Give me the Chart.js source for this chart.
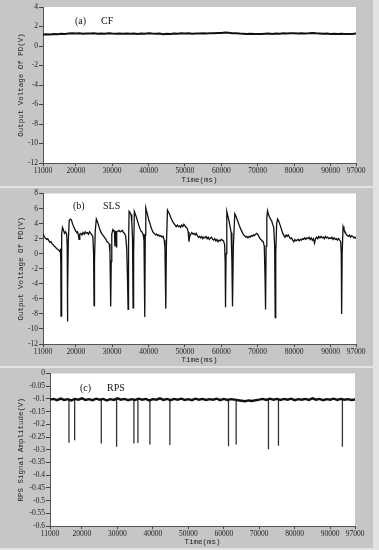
<!DOCTYPE html>
<html><head><meta charset="utf-8">
<script src="https://cdn.jsdelivr.net/npm/chart.js@4/dist/chart.umd.min.js"></script>
<style>
html,body{margin:0;padding:0;background:#e2e2e2;width:379px;height:550px;overflow:hidden}
.p{position:absolute;left:0}
canvas{display:block}
</style></head><body>
<div class="p" style="top:0px"><canvas id="ca" width="373" height="186"></canvas></div>
<div class="p" style="top:188px"><canvas id="cb" width="373" height="178"></canvas></div>
<div class="p" style="top:368px"><canvas id="cc" width="373" height="180"></canvas></div>
<script>
// ---------- data ----------
const xTickValues = [11000,20000,30000,40000,50000,60000,70000,80000,90000,97000];

const gridTimes = [
 11000,12000,13000,14000,15000,16000,17000,18000,19000,20000,
 21000,22000,23000,24000,25000,26000,27000,28000,29000,30000,
 31000,32000,33000,34000,35000,36000,37000,38000,39000,40000,
 41000,42000,43000,44000,45000,46000,47000,48000,49000,50000,
 51000,52000,53000,54000,55000,56000,57000,58000,59000,60000,
 61000,62000,63000,64000,65000,66000,67000,68000,69000,70000,
 71000,72000,73000,74000,75000,76000,77000,78000,79000,80000,
 81000,82000,83000,84000,85000,86000,87000,88000,89000,90000,
 91000,92000,93000,94000,95000,96000,97000];

// (a) CF output voltage (V)
const cfVolt = [
 1.18,1.20,1.17,1.22,1.20,1.25,1.23,1.28,1.30,1.27,
 1.30,1.26,1.29,1.27,1.30,1.25,1.28,1.26,1.30,1.27,
 1.25,1.29,1.26,1.28,1.25,1.27,1.24,1.28,1.26,1.30,
 1.27,1.25,1.28,1.20,1.26,1.24,1.28,1.25,1.30,1.27,
 1.30,1.26,1.29,1.27,1.31,1.28,1.32,1.30,1.34,1.33,
 1.38,1.36,1.32,1.30,1.27,1.25,1.23,1.25,1.22,1.24,
 1.22,1.25,1.27,1.24,1.28,1.26,1.30,1.28,1.30,1.32,
 1.29,1.31,1.28,1.30,1.33,1.30,1.28,1.25,1.27,1.24,
 1.26,1.23,1.25,1.22,1.24,1.23,1.28];

// (b) SLS output voltage (V)
const slsTime = [
 11000,11300,11600,12000,12300,12600,12900,13200,13500,13800,14100,14400,14700,15000,15300,15600,15800,15900,15950,16050,
 16200,16350,16600,16900,17200,17500,17650,17720,17800,17950,18200,18500,18800,19100,19400,19700,20000,20300,20500,20700,
 20900,21100,21400,21700,22000,22300,22600,22900,23200,23500,23800,24100,24400,24700,24900,25030,25150,25350,25650,25900,
 26200,26500,26800,27100,27400,27700,28000,28300,28600,28900,29200,29400,29600,29750,29900,30200,30500,30650,30720,30780,
 31050,31150,31250,31600,31900,32200,32500,32800,33100,33400,33700,34000,34200,34380,34500,34650,34900,35200,35400,35600,
 35750,35900,36100,36400,36700,37000,37300,37600,37900,38200,38500,38750,38960,39100,39240,39500,39800,40100,40400,40700,
 41000,41300,41600,41900,42200,42500,42800,43100,43400,43700,44000,44300,44500,44740,44900,45200,45500,45800,46100,46400,
 46700,47000,47300,47600,47900,48200,48500,48800,49100,49400,49700,50000,50300,50600,50900,51100,51300,51600,51900,52200,
 52500,52800,53100,53400,53700,54000,54300,54600,54900,55200,55500,55800,56100,56400,56700,57000,57300,57600,57900,58200,
 58500,58800,59100,59400,59700,60000,60300,60600,60900,61050,61150,61300,61500,61800,62100,62400,62700,62900,63070,63300,
 63700,64000,64300,64600,64900,65200,65500,65800,66100,66400,66700,67000,67300,67600,67900,68200,68500,68800,69100,69400,
 69700,70000,70300,70600,70900,71200,71500,71800,72000,72150,72300,72500,72700,72950,73200,73500,73800,74100,74400,74650,
 74800,74950,75200,75450,75700,76000,76300,76600,76900,77200,77500,77800,78100,78400,78700,79000,79300,79600,79900,80200,
 80500,80800,81100,81400,81700,82000,82300,82600,82900,83200,83500,83800,84100,84400,84700,85000,85300,85600,85900,86200,
 86500,86800,87100,87400,87700,88000,88300,88600,88900,89200,89500,89800,90100,90400,90700,91000,91300,91600,91900,92200,
 92500,92800,92950,93050,93200,93450,93700,94000,94300,94600,94900,95200,95500,95800,96100,96400,96700,97000];
const slsVolt = [
 2.6,2.3,2.1,1.9,2.0,1.7,1.5,1.6,1.3,1.2,1.0,0.9,0.7,0.6,0.5,0.3,0.5,-1.5,-8.3,-2.0,
 2.5,3.5,3.2,2.7,2.9,2.6,1.0,-9.0,-5.0,1.5,4.4,4.6,4.5,4.0,3.6,3.3,3.0,2.8,2.9,2.5,
 1.9,2.6,2.7,2.5,2.8,2.6,2.9,2.7,2.8,2.6,2.9,2.7,2.5,2.3,0.0,-6.9,-1.0,3.0,4.6,4.3,
 3.9,3.4,3.0,2.7,2.5,2.3,2.1,1.9,1.6,1.5,1.3,0.2,-7.0,-1.0,2.6,3.2,3.0,2.8,1.0,3.0,
 2.9,0.9,2.9,3.0,3.1,2.9,3.0,3.1,2.8,2.7,2.4,0.7,-3.0,-7.4,1.0,5.6,5.4,5.2,4.2,2.0,
 -7.2,0.0,5.6,5.2,4.8,4.3,3.8,3.4,3.0,2.9,2.6,1.8,-8.4,2.5,6.1,5.6,5.0,4.4,4.0,3.5,
 3.1,2.8,2.7,2.5,2.6,2.4,2.5,2.3,2.4,2.2,2.3,1.8,0.8,-7.3,1.0,5.8,5.5,5.2,4.8,4.5,
 4.2,4.0,3.8,3.6,3.8,3.6,3.7,3.5,3.8,3.6,3.9,3.7,3.5,3.4,2.9,1.6,2.3,2.6,2.8,2.6,
 2.7,2.5,2.7,2.4,2.2,2.3,2.1,2.3,2.0,2.2,2.1,2.3,2.0,2.2,1.9,2.1,2.2,1.9,1.8,2.0,
 1.7,1.9,1.6,1.8,1.7,1.9,1.8,1.7,1.2,-1.0,-7.1,0.0,5.6,5.0,4.4,3.6,2.8,-1.0,-7.0,1.0,
 5.3,5.0,4.6,4.2,3.8,3.4,3.1,2.8,2.5,2.4,2.2,2.3,2.1,2.3,2.2,2.4,2.3,2.5,2.4,2.6,
 2.7,2.6,2.3,2.0,1.9,1.7,1.6,1.0,-3.0,-7.4,1.0,4.8,5.7,5.2,4.9,4.6,4.4,3.9,3.5,1.0,
 -8.5,0.0,4.0,4.6,4.4,4.0,3.6,3.1,2.7,2.4,2.2,2.5,2.3,2.5,2.2,2.0,2.1,1.8,1.6,1.9,
 1.7,1.8,1.9,1.7,1.9,1.8,2.0,1.9,2.1,1.9,2.1,2.0,2.2,1.9,2.1,1.8,2.0,1.4,2.0,2.2,
 2.0,2.3,2.1,2.3,2.1,2.2,2.0,2.3,2.1,2.2,2.0,2.1,2.0,2.2,1.9,2.1,1.9,2.0,1.8,2.0,
 1.8,1.6,0.0,-8.0,0.0,3.6,3.2,2.9,2.6,2.4,2.3,2.5,2.2,2.4,2.3,2.1,2.2,2.0];

// (c) RPS signal amplitude (V)
const rpsBase = [
 -0.103,-0.100,-0.105,-0.099,-0.104,-0.101,-0.106,-0.100,-0.103,-0.098,
 -0.104,-0.101,-0.105,-0.099,-0.103,-0.100,-0.106,-0.101,-0.104,-0.098,
 -0.103,-0.100,-0.105,-0.101,-0.104,-0.099,-0.103,-0.100,-0.106,-0.101,
 -0.103,-0.098,-0.104,-0.100,-0.105,-0.100,-0.103,-0.099,-0.104,-0.101,
 -0.105,-0.099,-0.103,-0.100,-0.104,-0.101,-0.103,-0.099,-0.105,-0.100,
 -0.104,-0.101,-0.103,-0.105,-0.107,-0.109,-0.106,-0.108,-0.105,-0.103,
 -0.100,-0.104,-0.099,-0.103,-0.100,-0.104,-0.100,-0.103,-0.099,-0.105,
 -0.101,-0.103,-0.100,-0.104,-0.098,-0.103,-0.100,-0.105,-0.101,-0.103,
 -0.099,-0.104,-0.100,-0.103,-0.101,-0.104,-0.102];
const rpsSpikeTime  = [16350,17950,25460,29780,34660,35790,39170,44800,61330,63490,72600,75420,93450];
const rpsSpikeDepth = [-0.272,-0.263,-0.275,-0.288,-0.275,-0.273,-0.279,-0.281,-0.286,-0.279,-0.298,-0.284,-0.288];
const rpsSpikeTop = -0.100;

// ---------- drawing ----------
const PANEL = '#c6c6c6';
const bgPlugin = {
  id:'bg',
  beforeDraw(chart){
    const {ctx, chartArea:a} = chart;
    ctx.save();
    ctx.fillStyle = PANEL;
    ctx.fillRect(0,0,chart.width,chart.height);
    ctx.fillStyle = '#ffffff';
    ctx.fillRect(a.left,a.top,a.right-a.left,a.bottom-a.top);
    ctx.restore();
  },
  afterDraw(chart){
    const o = chart.options.plugins.bg;
    const {ctx, chartArea:a} = chart;
    ctx.save();
    ctx.fillStyle = '#111';
    ctx.font = '10px "Liberation Serif"';
    ctx.textBaseline = 'middle';
    ctx.fillText(o.tag, a.left + o.dx1, a.top + o.dy);
    ctx.fillText(o.name, a.left + o.dx2, a.top + o.dy);
    ctx.restore();
  }
};

function makeOptions(cfg){
  return {
    responsive:false, animation:false, devicePixelRatio:1,
    layout:{padding:{top:cfg.padTop,right:cfg.padRight,left:0,bottom:0}},
    plugins:{legend:{display:false},tooltip:{enabled:false},
      bg:{tag:cfg.tag,name:cfg.name,dx1:cfg.dx1,dx2:cfg.dx2,dy:cfg.dy}},
    scales:{
      x:{type:'linear',min:11000,max:97000,
        afterFit(s){s.height=cfg.xH;},
        afterBuildTicks(s){s.ticks = xTickValues.map(v=>({value:v}));},
        grid:{drawOnChartArea:false,drawTicks:true,tickLength:3,color:'#444'},
        border:{display:true,color:'#555',width:1},
        ticks:{autoSkip:false,maxRotation:0,padding:1,color:'#222',
          font:{family:'Liberation Serif',size:7.5},callback:v=>String(v)},
        title:{display:true,text:'Time(ms)',color:'#222',padding:{top:0,bottom:1},
          font:{family:'Liberation Mono',size:7.5}}
      },
      y:{min:cfg.yMin,max:cfg.yMax,
        afterFit(s){s.width=cfg.yW;},
        afterBuildTicks(s){s.ticks = cfg.yTicks.map(v=>({value:v}));},
        grid:{drawOnChartArea:false,drawTicks:true,tickLength:4,color:'#444'},
        border:{display:true,color:'#555',width:1},
        ticks:{autoSkip:false,padding:1,color:'#222',
          font:{family:'Liberation Serif',size:7.5},
          callback:v=>String(+(+v).toFixed(2))},
        title:{display:true,text:cfg.yTitle,color:'#222',padding:{top:cfg.yTitlePad,bottom:0},
          font:{family:'Liberation Mono',size:7.5}}
      }
    }
  };
}

const pts = (xs,ys)=>xs.map((x,i)=>({x:x,y:ys[i]}));
const lineDs = (data,w)=>({data:data,borderColor:'#111',borderWidth:w,pointRadius:0,tension:0,fill:false});

const yTicksA = [4,2,0,-2,-4,-6,-8,-10,-12];
const yTicksB = [8,6,4,2,0,-2,-4,-6,-8,-10,-12];
const yTicksC = [0,-0.05,-0.1,-0.15,-0.2,-0.25,-0.3,-0.35,-0.4,-0.45,-0.5,-0.55,-0.6];

new Chart(document.getElementById('ca'),{
  type:'line',
  data:{datasets:[lineDs(pts(gridTimes,cfVolt),2)]},
  options:makeOptions({padTop:7,padRight:17,xH:23,yW:43,yMin:-12,yMax:4,yTicks:yTicksA,
    yTitle:'Output Voltage Of PD(V)',yTitlePad:17,tag:'(a)',name:'CF',dx1:32,dx2:58,dy:14}),
  plugins:[bgPlugin]
});

new Chart(document.getElementById('cb'),{
  type:'line',
  data:{datasets:[lineDs(pts(slsTime,slsVolt),1.3)]},
  options:makeOptions({padTop:3,padRight:17,xH:22,yW:43,yMin:-12,yMax:8,yTicks:yTicksB,
    yTitle:'Output Voltage Of PD(V)',yTitlePad:17,tag:'(b)',name:'SLS',dx1:30,dx2:60,dy:13}),
  plugins:[bgPlugin]
});

const spikeData = [];
rpsSpikeTime.forEach((t,i)=>{
  spikeData.push({x:t,y:rpsSpikeTop});
  spikeData.push({x:t,y:rpsSpikeDepth[i]});
  spikeData.push({x:t,y:null});
});
new Chart(document.getElementById('cc'),{
  type:'line',
  data:{datasets:[
    lineDs(pts(gridTimes,rpsBase),2.4),
    {data:spikeData,borderColor:'#333',borderWidth:1.3,pointRadius:0,spanGaps:false,fill:false}
  ]},
  options:makeOptions({padTop:4,padRight:18,xH:22,yW:50,yMin:-0.6,yMax:0,yTicks:yTicksC,
    yTitle:'RPS Signal Amplitude(V)',yTitlePad:17,tag:'(c)',name:'RPS',dx1:30,dx2:57,dy:15}),
  plugins:[bgPlugin]
});
</script>
</body></html>
